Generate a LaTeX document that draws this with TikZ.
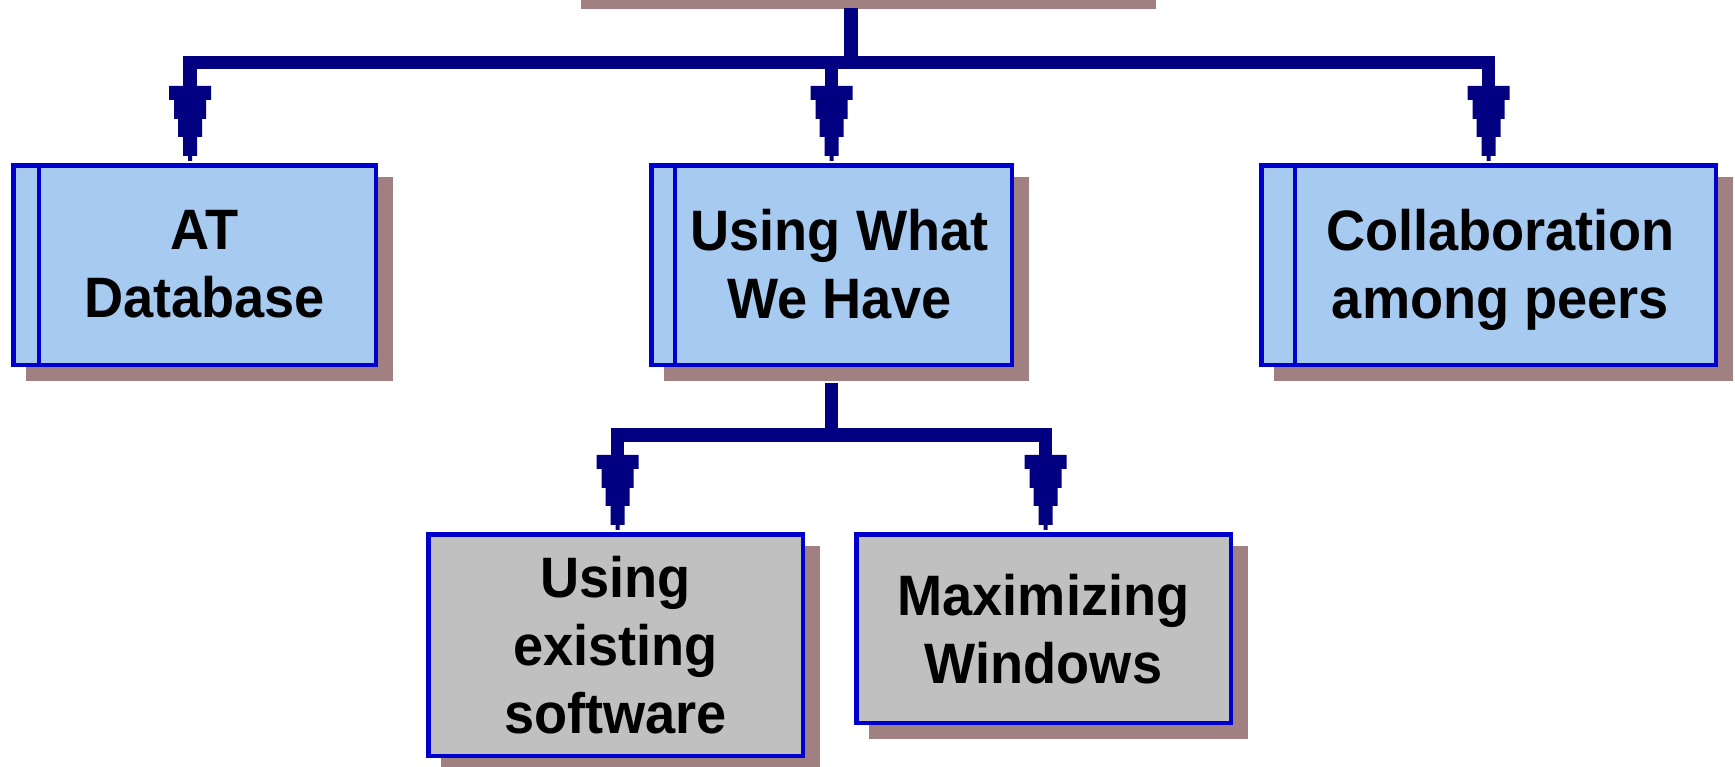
\documentclass[tikz,border=0pt]{standalone}
\usepackage{fontspec}
\setmainfont[FakeStretch=0.95]{Liberation Sans}
\usetikzlibrary{shadows}
\definecolor{navyline}{HTML}{000080}
\definecolor{boxborder}{HTML}{0000CC}
\definecolor{skyfill}{HTML}{A6CAF0}
\definecolor{greyfill}{HTML}{C0C0C0}
\definecolor{shadowc}{HTML}{A08080}
\begin{document}
\begin{tikzpicture}[x=1pt,y=-1pt,
  box/.style={draw=boxborder, line width=4.5pt, rectangle, inner sep=0pt,
    drop shadow={shadow xshift=15pt, shadow yshift=-14pt, fill=shadowc, draw=shadowc,
      line width=4.5pt, opacity=1}},
  boxtext/.style={align=center, inner sep=0pt, text depth=0pt,
    font=\fontsize{57}{68}\selectfont\bfseries},
  bluebox/.style={box, fill=skyfill},
  greybox/.style={box, fill=greyfill, boxtext},
  tree/.style={draw=navyline, line width=13.5pt, line join=miter, line cap=butt},
  innerline/.style={draw=boxborder, line width=4.5pt},
  downhead/.pic={\fill[navyline] (-21,-75) -- (21,-75) -- (21,-61) -- (16,-61) -- (16,-42)
     -- (12,-42) -- (12,-24) -- (7,-24) -- (7,-5) -- (2,-5) -- (2,0) -- (-2,0) -- (-2,-5)
     -- (-7,-5) -- (-7,-24) -- (-12,-24) -- (-12,-42) -- (-16,-42) -- (-16,-61)
     -- (-21,-61) -- cycle;}
]
\useasboundingbox (0,0) rectangle (1735,766);

% shadow of the root box (the box itself lies above the picture)
\fill[shadowc] (581,0) rectangle (1156,8.5);
\coordinate (rootbot) at (851,8);

% blue boxes with a bar on the left
\node[bluebox, minimum width=362.5pt, minimum height=199.5pt] (at) at (194.5,265) {};
\node[bluebox, minimum width=360.5pt, minimum height=199.5pt] (uw) at (831.5,265) {};
\node[bluebox, minimum width=454.5pt, minimum height=199.5pt] (co) at (1488.5,265) {};
\draw[innerline] ([xshift=28pt]at.north west) -- ([xshift=28pt]at.south west);
\draw[innerline] ([xshift=26pt]uw.north west) -- ([xshift=26pt]uw.south west);
\draw[innerline] ([xshift=36pt]co.north west) -- ([xshift=36pt]co.south west);
\node[boxtext] (attext) at ([xshift=10pt,yshift=1pt]at.center) {AT\\Database};
\node[boxtext] (uwtext) at ([xshift=8pt,yshift=1pt]uw.center) {Using What\\We Have};
\node[boxtext] (cotext) at ([xshift=12pt,yshift=1pt]co.center) {Collaboration\\among peers};

% grey boxes
\node[greybox, minimum width=374.5pt, minimum height=221.5pt] (ue) at (615.5,645) {Using\\existing\\software};
\node[greybox, minimum width=374.5pt, minimum height=188.5pt] (mw) at (1043.5,628.5) {Maximizing\\Windows};

% arrow tip positions
\coordinate (bus1) at (0,62.5);
\coordinate (bus2) at (0,435);
\coordinate (atT) at ([xshift=-4.5pt,yshift=2.25pt]at.north);
\coordinate (uwT) at ([yshift=2.25pt]uw.north);
\coordinate (coT) at ([yshift=2.25pt]co.north);
\coordinate (ueT) at ([xshift=2pt,yshift=2.25pt]ue.north);
\coordinate (mwT) at ([xshift=2pt,yshift=2.25pt]mw.north);
\coordinate (uwB) at ([yshift=-16.25pt]uw.south);

% upper tree
\draw[tree] ([yshift=74pt]atT) -- (atT |- bus1) -- (coT |- bus1) -- ([yshift=74pt]coT);
\draw[tree] (rootbot) -- (rootbot |- bus1);
\draw[tree] (uwT |- bus1) -- ([yshift=74pt]uwT);

% lower tree
\draw[tree] (uwB) -- (uwB |- bus2);
\draw[tree] ([yshift=74pt]ueT) -- (ueT |- bus2) -- (mwT |- bus2) -- ([yshift=74pt]mwT);

% arrowheads
\pic at (atT) {downhead};
\pic at (uwT) {downhead};
\pic at (coT) {downhead};
\pic at (ueT) {downhead};
\pic at (mwT) {downhead};
\end{tikzpicture}
\end{document}
